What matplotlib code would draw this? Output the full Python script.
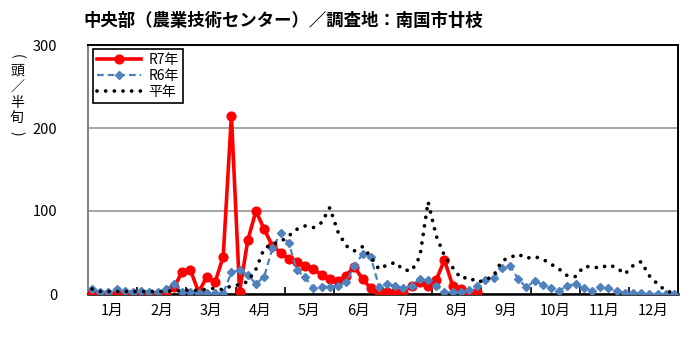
import matplotlib
matplotlib.use('Agg')
import matplotlib.pyplot as plt
import numpy as np

plt.rcParams['font.family'] = ['Noto Sans CJK JP', 'DejaVu Sans']

title = '中央部（農業技術センター）／調査地：南国市廿枝'
months = ['1月', '2月', '3月', '4月', '5月', '6月', '7月', '8月', '9月', '10月', '11月', '12月']
yticks = [0, 100, 200, 300]

r7 = [2, 0, 0, 0, 0, 0, 0, 0, 0, 0, 8, 27, 29, 2, 21, 14, 45, 215, 3, 65,
      100, 78, 58, 50, 42, 38, 34, 30, 23, 18, 16, 22, 33, 18, 7, 2, 2, 2, 3, 10,
      14, 10, 17, 41, 10, 6, 1, 3]
r6 = [6, 3, 2, 6, 4, 3, 4, 3, 2, 6, 12, 3, 2, 1, 1, 1, 1, 26, 29, 23,
      12, 21, 55, 73, 61, 29, 20, 7, 9, 9, 10, 14, 34, 48, 45, 9, 12, 10, 7, 10,
      18, 17, 10, 2, 2, 2, 5, 10, 17, 19, 31, 34, 18, 8, 16, 11, 7, 4, 10, 12,
      7, 4, 9, 7, 4, 1, 1, 1, 0, 0, 0, 0]
normal = [6, 3, 3, 3, 3, 3, 3, 3, 3, 3, 4, 4, 5, 4, 6, 7, 5, 10, 11, 15,
          30, 55, 60, 63, 70, 78, 82, 80, 86, 104, 75, 58, 52, 57, 45, 30, 35, 38, 29, 28,
          45, 111, 70, 46, 32, 19, 20, 14, 17, 22, 40, 44, 48, 43, 45, 42, 36, 30, 22, 21,
          33, 33, 31, 35, 32, 24, 34, 39, 22, 12, 4, 1]

fig = plt.figure(figsize=(7, 3.4), dpi=100)
ax = fig.add_axes([88/700, 46/340, 590/700, 249/340])

ax.plot(np.arange(len(r7)), r7, color='#FF0000', lw=2.6, marker='o', ms=6.3,
        label='R7年', zorder=3)
ax.plot(np.arange(len(r6)), r6, color='#4F81BD', lw=1.6, ls=(0, (3, 1.8)),
        marker='D', ms=3.6, label='R6年', zorder=4)
ax.plot(np.arange(len(normal)), normal, color='black', lw=2.7, ls=(0, (0.01, 2.3)),
        dash_capstyle='round', label='平年', zorder=5)

ax.set_xlim(-0.5, 71.5)
ax.set_ylim(0, 300)
ax.set_yticks(yticks)
ax.set_yticklabels([str(v) for v in yticks], fontsize=10.5)
ax.yaxis.grid(True, color='#8C8C8C', lw=1.1)
ax.set_axisbelow(True)

ax.set_xticks(np.arange(0, 73, 6) - 0.5)
ax.set_xticklabels([])
ax.set_xticks(np.arange(12) * 6 + 2.5, minor=True)
ax.set_xticklabels(months, minor=True, fontsize=10.5)
ax.tick_params(axis='x', which='major', direction='in', length=5, width=1.2)
ax.tick_params(axis='x', which='minor', length=0, pad=7)
ax.tick_params(axis='y', length=0, pad=22)

for s in ['top', 'right']:
    ax.spines[s].set_color('black')
    ax.spines[s].set_linewidth(1.4)
ax.spines['left'].set_color('#808080')
ax.spines['left'].set_linewidth(1.4)
ax.spines['bottom'].set_color('black')
ax.spines['bottom'].set_linewidth(1.8)

leg = ax.legend(loc='upper left', bbox_to_anchor=(0.008, 0.985), fontsize=10,
                frameon=True, fancybox=False, edgecolor='black', framealpha=1,
                handlelength=3.2, borderpad=0.3, labelspacing=0.15,
                handletextpad=0.5, borderaxespad=0)
leg.get_frame().set_linewidth(1.2)

fig.text(83/700, 1 - 21/340, title, fontsize=12.5, fontweight='bold',
         ha='left', va='center')

ylab = ['(', '頭', '／', '半', '旬', ')']
ys = [56, 71, 87, 103, 118, 133]
for ch, yy in zip(ylab, ys):
    rot = -90 if ch in '()' else 0
    fig.text(17/700, 1 - yy/340, ch, fontsize=10, ha='center', va='center',
             rotation=rot, rotation_mode='anchor')

fig.savefig('out.png', dpi=100)
